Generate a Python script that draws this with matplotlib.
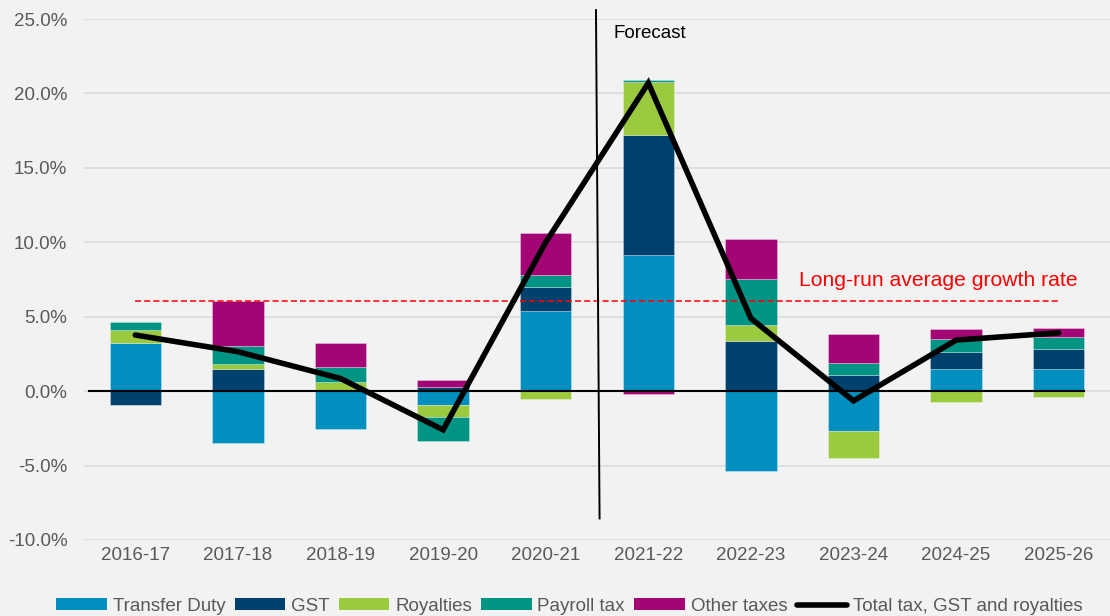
import matplotlib
matplotlib.use("Agg")
import matplotlib.pyplot as plt
import numpy as np
from matplotlib.patches import Patch
from matplotlib.lines import Line2D

plt.rcParams['font.family'] = ['Liberation Sans', 'DejaVu Sans']

years = ["2016-17", "2017-18", "2018-19", "2019-20", "2020-21",
         "2021-22", "2022-23", "2023-24", "2024-25", "2025-26"]
transfer_duty = [3.25, -3.50, -2.55, -0.95, 5.38, 9.15, -5.36, -2.67, 1.46, 1.46]
gst           = [-0.90, 1.50, 0.00, 0.30, 1.64, 8.03, 3.39, 1.08, 1.18, 1.39]
royalties     = [0.83, 0.35, 0.63, -0.80, -0.50, 3.60, 1.05, -1.80, -0.76, -0.36]
payroll_tax   = [0.58, 1.20, 1.00, -1.60, 0.78, 0.15, 3.10, 0.82, 0.88, 0.80]
other_taxes   = [-0.05, 3.00, 1.63, 0.45, 2.85, -0.18, 2.66, 1.94, 0.65, 0.61]
total         = [3.77, 2.65, 0.85, -2.60, 10.00, 20.70, 4.89, -0.65, 3.43, 3.92]
long_run_avg = 6.06

series = [("Transfer Duty", transfer_duty, "#008FBE"),
          ("GST", gst, "#00416E"),
          ("Royalties", royalties, "#9BCA3E"),
          ("Payroll tax", payroll_tax, "#009484"),
          ("Other taxes", other_taxes, "#A30574")]

bg = "#F2F2F2"
fig = plt.figure(figsize=(11.1, 6.16), dpi=100, facecolor=bg)
ax = fig.add_axes([84/1110, 76/616, 1026/1110, 521/616], facecolor=bg)

x = np.arange(len(years))
pos_bottom = np.zeros(len(years))
neg_bottom = np.zeros(len(years))
for name, vals, col in series:
    v = np.array(vals, dtype=float)
    bottoms = np.where(v >= 0, pos_bottom, neg_bottom)
    ax.bar(x, v, 0.5, bottom=bottoms, color=col,
           edgecolor=(1, 1, 1, 0.35), linewidth=0.6, zorder=2)
    pos_bottom += np.where(v >= 0, v, 0)
    neg_bottom += np.where(v < 0, v, 0)

# zero axis line
ax.plot([-0.45, 9.25], [0, 0], color="black", lw=1.5, zorder=3)
# long-run average
ax.plot([0, 9], [long_run_avg, long_run_avg], color="#FF0000", lw=1.1,
        linestyle=(0, (4, 2)), zorder=3)
ax.text(6.47, 7.07, "Long-run average growth rate", color="#FF0000",
        fontsize=15.2, ha="left", va="baseline", zorder=5)
# total line
ax.plot(x, total, color="black", lw=4, solid_capstyle="round",
        solid_joinstyle="miter", zorder=4)
# forecast divider
ax.plot([4.525, 4.49], [-8.55, 25.6], color="black", lw=1.4,
        clip_on=False, zorder=4)
ax.text(4.66, 24.0, "Forecast", color="black", fontsize=13.5,
        ha="left", va="center", zorder=5)

ax.set_xlim(-0.5, 9.5)
ax.set_ylim(-10, 25)
ax.set_yticks(np.arange(-10, 26, 5))
ax.set_yticklabels([f"{t:.1f}%" for t in np.arange(-10, 26, 5)])
ax.set_xticks(x)
ax.set_xticklabels(years)
ax.tick_params(axis="both", length=0, labelsize=13.5, labelcolor="#595959")
ax.tick_params(axis="y", pad=12)
ax.tick_params(axis="x", pad=5)
ax.grid(axis="y", color="#D9D9D9", lw=1.1)
ax.set_axisbelow(True)
for s in ax.spines.values():
    s.set_visible(False)

handles = [Patch(facecolor=c, edgecolor="none") for _, _, c in series]
handles.append(Line2D([], [], color="black", lw=4, solid_capstyle="round"))
labels = [n for n, _, _ in series] + ["Total tax, GST and royalties"]
fig.legend(handles, labels, loc="center", bbox_to_anchor=(0.513, 0.016),
           ncol=6, frameon=False, fontsize=13.5, handlelength=2.7,
           handleheight=0.55, handletextpad=0.3, columnspacing=0.5,
           labelcolor="#595959")

fig.savefig("out.png", dpi=100, facecolor=bg)
